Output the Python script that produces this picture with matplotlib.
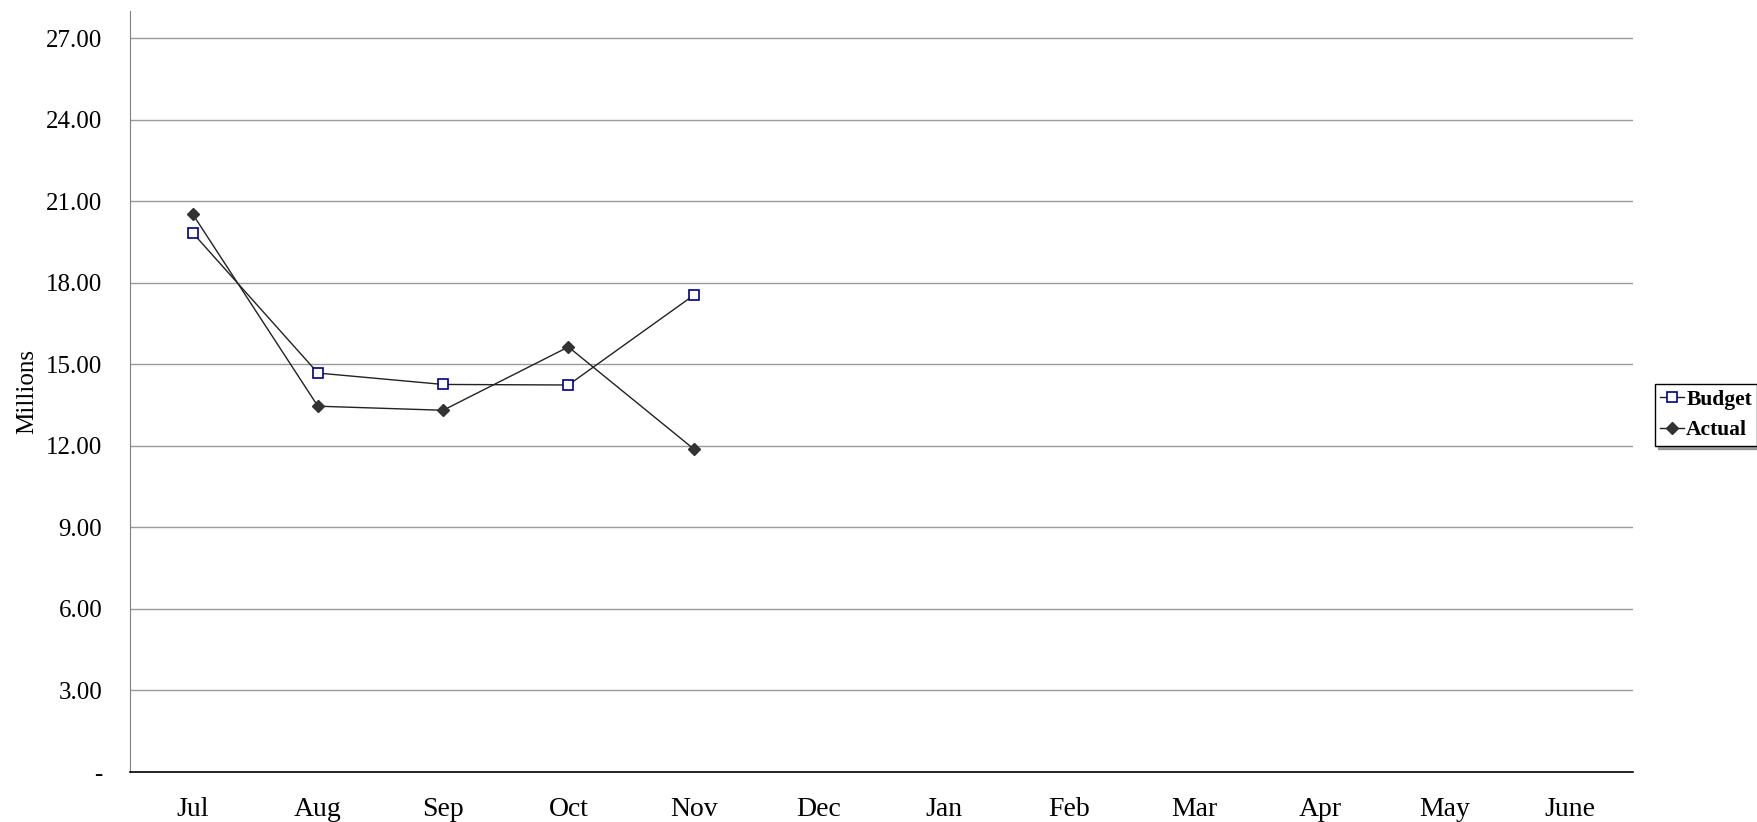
import matplotlib
matplotlib.use("Agg")
import matplotlib.pyplot as plt

# --- Data ---
months = ["Jul", "Aug", "Sep", "Oct", "Nov", "Dec", "Jan", "Feb", "Mar", "Apr", "May", "June"]
budget = [19.84, 14.68, 14.26, 14.24, 17.54]
actual = [20.53, 13.46, 13.31, 15.64, 11.89]
y_ticks = [0, 3, 6, 9, 12, 15, 18, 21, 24, 27]
y_tick_labels = ["-"] + [f"{v:.2f}" for v in y_ticks[1:]]

plt.rcParams["font.family"] = ["Liberation Serif", "DejaVu Serif"]

fig = plt.figure(figsize=(17.57, 8.22), dpi=100)
ax = fig.add_axes([0.074, 0.0608, 0.8554, 0.9258])

x = list(range(len(months)))

ax.plot(x[:len(budget)], budget, color="#222222", lw=1.0,
        marker="s", markersize=7.5, markerfacecolor="white",
        markeredgecolor="#000080", markeredgewidth=1.2, label="Budget", zorder=3)
ax.plot(x[:len(actual)], actual, color="#222222", lw=1.0,
        marker="D", markersize=6.5, markerfacecolor="#333333",
        markeredgecolor="#333333", label="Actual", zorder=3)

ax.set_xlim(-0.5, len(months) - 0.5)
ax.set_ylim(0, 28)
ax.set_yticks(y_ticks)
ax.set_yticklabels(y_tick_labels)
ax.set_xticks(x)
ax.set_xticklabels(months)
ax.tick_params(axis="both", length=0)
ax.tick_params(axis="y", pad=20, labelsize=18)
ax.tick_params(axis="x", pad=18, labelsize=20)

for v in y_ticks[1:]:
    ax.axhline(v, color="#9a9a9a", lw=1.0, zorder=1)

ax.spines["top"].set_visible(False)
ax.spines["right"].set_visible(False)
ax.spines["left"].set_color("#808080")
ax.spines["bottom"].set_color("black")
ax.spines["bottom"].set_linewidth(1.2)

ax.set_ylabel("Millions", fontsize=18)
ax.yaxis.set_label_coords(-0.061, 0.5)

leg = fig.legend(loc="center left", bbox_to_anchor=(1655 / 1757, 1 - 415 / 822),
                 frameon=True, fancybox=False, shadow=True,
                 prop={"weight": "bold", "size": 15.5},
                 handlelength=1.1, handletextpad=0.1, borderpad=0.25,
                 labelspacing=0.5, borderaxespad=0)
leg.get_frame().set_edgecolor("black")
leg.get_frame().set_linewidth(1.0)

fig.savefig("out.png", dpi=100)
